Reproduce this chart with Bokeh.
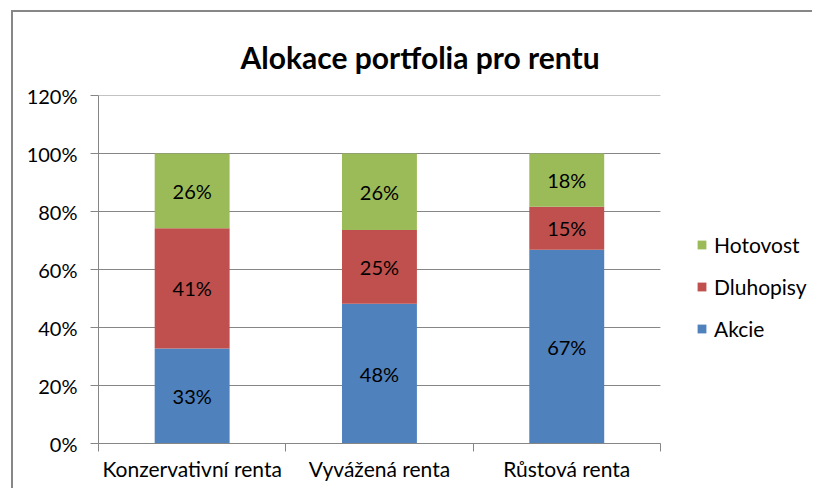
from bokeh.plotting import figure
from bokeh.models import (Range1d, LinearAxis, FixedTicker, Title,
                          ColumnDataSource, Legend, LegendItem, CustomJSTickFormatter)
from bokeh.core.properties import value
from bokeh.embed import file_html
from bokeh.resources import INLINE

categories = ["Konzervativní renta", "Vyvážená renta", "Růstová renta"]
akcie = [32.8, 48.2, 66.8]
dluhopisy = [41.4, 25.4, 14.8]
hotovost = [25.8, 26.4, 18.4]
series_names = ["Akcie", "Dluhopisy", "Hotovost"]
colors = ["#4F81BD", "#C0504D", "#9BBB59"]
y_ticks = [0, 20, 40, 60, 80, 100, 120]
title_text = "Alokace portfolia pro rentu"

FONT = "Lato"
GRID = "#868686"
W, H = 801, 478
LEFT = 85
CAT_PX = 187.3          # pixel width of one category slot
FRAME_W = W - LEFT      # frame runs to the right edge so the legend is not clipped

n = len(categories)
centers = [i + 0.5 for i in range(n)]

p = figure(x_range=Range1d(0, FRAME_W / CAT_PX), y_range=Range1d(0, 120),
           width=W, height=H, output_backend="svg", toolbar_location=None,
           x_axis_location=None, y_axis_location=None,
           min_border_left=LEFT, min_border_right=0, min_border_top=83, min_border_bottom=47)
p.styles = {"margin-left": "11px", "margin-top": "10px",
            "border-left": "2px solid #878787", "border-top": "2px solid #878787"}
p.outline_line_color = None
p.xgrid.grid_line_color = None
p.ygrid.grid_line_color = None

p.title = Title(text=title_text, align="left", offset=142, standoff=42,
                text_font=FONT, text_font_size="30px", text_font_style="bold",
                text_color="#000000")

# horizontal gridlines limited to the plot area (categories 0..n)
p.segment(x0=[0] * len(y_ticks), x1=[n] * len(y_ticks), y0=y_ticks, y1=y_ticks,
          line_color=GRID, line_width=1)

yax = LinearAxis(ticker=FixedTicker(ticks=y_ticks),
                 formatter=CustomJSTickFormatter(code="return tick + '%'"))
yax.axis_line_color = GRID
yax.major_tick_line_color = GRID
yax.major_tick_out = 8
yax.major_tick_in = 0
yax.minor_tick_line_color = None
yax.major_label_text_font = FONT
yax.major_label_text_font_size = "20px"
yax.major_label_text_color = "#000000"
yax.major_label_standoff = 13
p.add_layout(yax, "left")

tax = LinearAxis(ticker=FixedTicker(ticks=list(range(n + 1))), bounds=(0, n))
tax.axis_line_color = GRID
tax.major_tick_line_color = GRID
tax.major_tick_out = 8
tax.major_tick_in = 0
tax.minor_tick_line_color = None
tax.major_label_text_font_size = "0px"
tax.major_label_standoff = 0
p.add_layout(tax, "below")

cax = LinearAxis(ticker=FixedTicker(ticks=centers),
                 major_label_overrides={c: name for c, name in zip(centers, categories)})
cax.axis_line_color = None
cax.major_tick_line_color = None
cax.minor_tick_line_color = None
cax.major_label_text_font = FONT
cax.major_label_text_font_size = "21px"
cax.major_label_text_color = "#000000"
cax.major_label_standoff = -2
p.add_layout(cax, "below")

src = ColumnDataSource(dict(x=centers, Akcie=akcie, Dluhopisy=dluhopisy, Hotovost=hotovost))
renderers = p.vbar_stack(series_names, x="x", width=0.4, source=src,
                         color=colors, line_color=None)

lx, ly, lt = [], [], []
for i in range(n):
    base = 0
    for vals in (akcie, dluhopisy, hotovost):
        v = vals[i]
        lx.append(centers[i])
        ly.append(base + v / 2)
        lt.append(f"{round(v)}%")
        base += v
p.text(x=lx, y=ly, text=lt, text_font=value(FONT), text_font_size="20px",
       text_align="center", text_baseline="middle", text_color="#000000")

legend = Legend(items=[LegendItem(label=nm, renderers=[r]) for nm, r in
                       reversed(list(zip(series_names, renderers)))],
                location=(598, 102))
legend.border_line_color = None
legend.background_fill_alpha = 0
legend.padding = 0
legend.margin = 0
legend.glyph_width = 11
legend.glyph_height = 11
legend.label_standoff = 7
legend.spacing = 17
legend.label_text_font = FONT
legend.label_text_font_size = "21px"
legend.label_text_color = "#000000"
p.add_layout(legend, "center")

open("out.html", "w").write(file_html(p, INLINE))
